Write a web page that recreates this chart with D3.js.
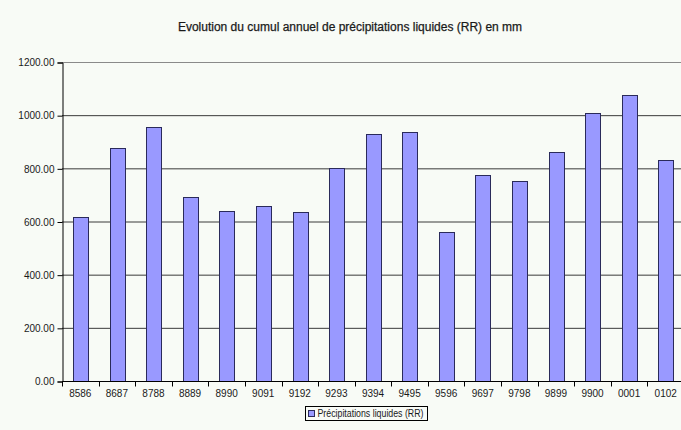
<!DOCTYPE html>
<html>
<head>
<meta charset="utf-8">
<script src="https://cdn.jsdelivr.net/npm/d3@7"></script>
<style>
  body { margin: 0; background: #f8fbf6; }
  text { font-family: "Liberation Sans", Arial, sans-serif; fill: #1a1a1a; }
</style>
</head>
<body>
<div id="chart"></div>
<script>
// data
let years = ["8586", "8687", "8788", "8889", "8990", "9091", "9192", "9293", "9394",
             "9495", "9596", "9697", "9798", "9899", "9900", "0001", "0102"];
let rain = [618, 877, 956, 694, 640, 658, 637, 801, 930, 936, 559, 776, 753, 862, 1009, 1077, 833];
let yTicks = [0, 200, 400, 600, 800, 1000, 1200];

let width = 681;
let height = 430;

let margin = { top: 62, right: -3, bottom: 49, left: 62 };
let chartWidth = width - margin.left - margin.right;
let chartHeight = height - margin.top - margin.bottom;

let svg = d3.select("#chart")
  .append("svg")
  .attr("width", width)
  .attr("height", height);

svg.append("rect")
  .attr("width", width)
  .attr("height", height)
  .attr("fill", "#f8fbf6");

// title
svg.append("text")
  .attr("x", 350)
  .attr("y", 31)
  .attr("text-anchor", "middle")
  .attr("font-size", "12px")
  .attr("stroke", "#1a1a1a")
  .attr("stroke-width", 0.25)
  .text("Evolution du cumul annuel de précipitations liquides (RR) en mm");

let chartGroup = svg.append("g")
  .attr("transform", `translate(${margin.left}, ${margin.top})`);

let xScale = d3.scaleBand()
  .domain(years)
  .range([0, chartWidth])
  .paddingInner(0.6)
  .paddingOuter(0.3);

let yScale = d3.scaleLinear()
  .domain([0, 1200])
  .range([chartHeight, 0]);

// gridlines
chartGroup.selectAll(".grid")
  .data(yTicks.filter(d => d > 0))
  .enter()
  .append("line")
  .attr("x1", 0)
  .attr("x2", chartWidth)
  .attr("y1", d => yScale(d) + 0.5)
  .attr("y2", d => yScale(d) + 0.5)
  .attr("stroke", d => d === 1200 ? "#8a8a8a" : "#3a3a3a")
  .attr("stroke-width", 1);

// bars
chartGroup.selectAll(".bar")
  .data(rain)
  .enter()
  .append("rect")
  .attr("x", (d, i) => Math.round(xScale(years[i])) + 0.5)
  .attr("y", d => Math.round(yScale(d)) + 0.5)
  .attr("width", Math.round(xScale.bandwidth()))
  .attr("height", d => chartHeight - Math.round(yScale(d)))
  .attr("fill", "#9999ff")
  .attr("stroke", "#2a2a5a")
  .attr("stroke-width", 1);

// y axis
let yAxis = d3.axisLeft(yScale)
  .tickValues(yTicks)
  .tickSize(5)
  .tickPadding(3)
  .tickFormat(d3.format(".2f"));

let yG = chartGroup.append("g")
  .attr("transform", "translate(0.5, 0.5)")
  .call(yAxis);
yG.selectAll("text").attr("font-size", "10px").attr("font-family", "Liberation Sans, Arial, sans-serif");
yG.select(".domain").attr("stroke", "#000");
yG.selectAll(".tick line").attr("stroke", "#000");

// x axis (ticks between categories)
let xG = chartGroup.append("g")
  .attr("transform", `translate(0, ${chartHeight + 0.5})`);

xG.append("line")
  .attr("x1", 0)
  .attr("x2", chartWidth)
  .attr("stroke", "#000");

let step = xScale.step();
xG.selectAll(".xtick")
  .data(d3.range(years.length + 1))
  .enter()
  .append("line")
  .attr("x1", d => Math.round(d * step) + 0.5)
  .attr("x2", d => Math.round(d * step) + 0.5)
  .attr("y1", 0)
  .attr("y2", 5)
  .attr("stroke", "#000");

xG.selectAll(".xlabel")
  .data(years)
  .enter()
  .append("text")
  .attr("x", d => xScale(d) + xScale.bandwidth() / 2)
  .attr("y", 15)
  .attr("text-anchor", "middle")
  .attr("font-size", "10px")
  .text(d => d);

// legend
let legend = svg.append("g").attr("transform", "translate(305.5, 406.5)");
legend.append("rect")
  .attr("width", 122)
  .attr("height", 14)
  .attr("fill", "#f8fbf6")
  .attr("stroke", "#000");
legend.append("rect")
  .attr("x", 3)
  .attr("y", 4)
  .attr("width", 6)
  .attr("height", 6)
  .attr("fill", "#9999ff")
  .attr("stroke", "#2a2a5a");
legend.append("text")
  .attr("x", 12)
  .attr("y", 10.5)
  .attr("font-size", "10px")
  .attr("textLength", 106)
  .attr("lengthAdjust", "spacingAndGlyphs")
  .text("Précipitations liquides (RR)");
</script>
</body>
</html>
